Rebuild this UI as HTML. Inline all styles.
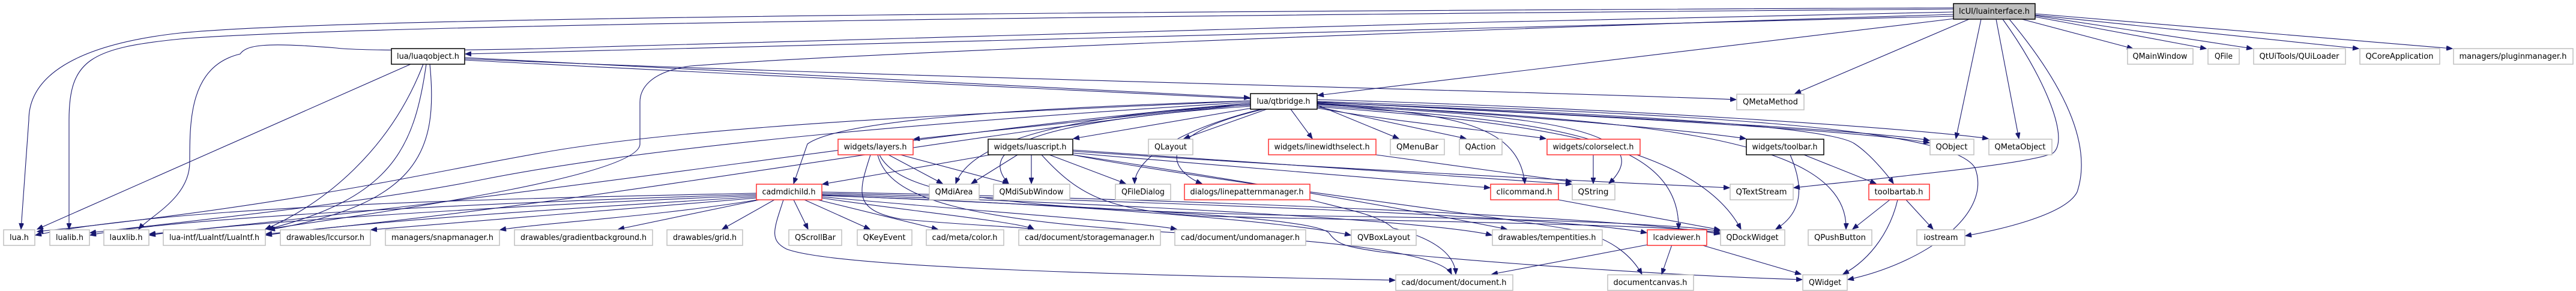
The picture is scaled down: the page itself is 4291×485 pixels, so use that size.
<!DOCTYPE html>
<html><head><meta charset="utf-8"><style>
html,body{margin:0;padding:0;background:#fff;}
svg{display:block;}
text{font-family:"DejaVu Sans","Liberation Sans",sans-serif;font-size:13px;fill:#000;}
.e{fill:none;stroke:#191970;stroke-width:1.1;marker-end:url(#a);}
.g{fill:#fff;stroke:#bfbfbf;stroke-width:1.5;}
.r{fill:#fff;stroke:#ff3030;stroke-width:1.5;}
.k{fill:#fff;stroke:#000;stroke-width:1.5;}
</style></head><body>
<svg width="4291" height="485" viewBox="0 0 4291 485" xmlns="http://www.w3.org/2000/svg">
<defs><marker id="a" markerUnits="userSpaceOnUse" markerWidth="11" markerHeight="8" refX="10" refY="4" orient="auto"><path d="M0,0 L10,4 L0,8 z" fill="#191970" stroke="#191970"/></marker></defs>
<g>
<!-- luainterface edges -->
<path class="e" d="M3254,13 C2200,18 600,25 300,55 C120,75 48,130 48,200 L35,382"/>
<path class="e" d="M3254,15 C2000,25 600,40 300,65 C150,80 115,100 115,200 L115,382"/>
<path class="e" d="M3254,20 C2500,35 1500,60 1000,78 C800,85 600,85 560,80 C440,70 410,75 400,90 C316,110 316,200 316,270 C316,330 250,360 231,382"/>
<path class="e" d="M3254,24 C2400,50 1400,90 1150,110 C1080,120 1066,150 1066,170 L1066,240 C1066,290 700,345 444,382"/>
<path class="e" d="M3254,27 L775,90"/>
<path class="e" d="M3256,31 L2195,159"/>
<path class="e" d="M3280,32 L2990,156"/>
<path class="e" d="M3300,32 L3258,231"/>
<path class="e" d="M3325,32 L3363,231"/>
<path class="e" d="M3336,32 C3400,120 3450,230 3420,255 C3380,275 3100,300 2988,313"/>
<path class="e" d="M3347,32 C3420,120 3490,230 3460,320 C3440,360 3320,385 3274,393"/>
<path class="e" d="M3368,32 L3553,81"/>
<path class="e" d="M3390,28 L3675,81"/>
<path class="e" d="M3390,26 L3752,81"/>
<path class="e" d="M3390,25 L3929,81"/>
<path class="e" d="M3390,23 L4085,81"/>
<!-- luaqobject -->
<path class="e" d="M774,96 L2082,163"/>
<path class="e" d="M774,98 C1500,130 2500,150 2892,166"/>
<path class="e" d="M774,100 C1700,150 3000,200 3214,238"/>
<path class="e" d="M684,107 L62,382"/>
<path class="e" d="M705,107 C650,250 540,340 442,382"/>
<path class="e" d="M710,107 C690,250 650,330 446,382"/>
<path class="e" d="M716,107 C730,250 700,340 448,383"/>
<!-- qtbridge -->
<path class="e" d="M2083,172 L1522,232"/>
<path class="e" d="M2086,180 L1788,231"/>
<path class="e" d="M2110,182 L1972,231"/>
<path class="e" d="M2150,182 L2186,231"/>
<path class="e" d="M2194,175 L2330,231"/>
<path class="e" d="M2194,178 L2442,231"/>
<path class="e" d="M2194,180 C2300,200 2500,220 2575,231"/>
<path class="e" d="M2194,172 C2500,190 2800,215 2908,231"/>
<path class="e" d="M2194,170 C2600,190 3100,215 3214,234"/>
<path class="e" d="M2194,166 C2700,180 3200,215 3312,231"/>
<path class="e" d="M2083,168 C1700,180 1400,200 1345,240 L1322,306"/>
<path class="e" d="M2083,175 C1800,190 1620,230 1592,306"/>
<path class="e" d="M2083,177 C1750,200 1620,240 1680,306"/>
<path class="e" d="M2100,182 C1950,220 1890,270 1890,306"/>
<path class="e" d="M2105,182 C1900,230 1960,290 2002,306"/>
<path class="e" d="M2194,173 C2400,190 2530,200 2540,306"/>
<path class="e" d="M2194,174 C2450,190 2790,200 2680,306"/>
<path class="e" d="M2194,176 C2550,200 2800,220 2796,382"/>
<path class="e" d="M2194,178 C2500,200 2820,230 2900,382"/>
<path class="e" d="M2194,173 C2700,200 3080,220 3075,382"/>
<path class="e" d="M2194,171 C2700,190 3050,210 3090,240 C3120,260 3150,300 3154,306"/>
<path class="e" d="M2194,169 C2800,190 3250,210 3290,280 C3320,360 3200,440 3078,466"/>
<path class="e" d="M2083,168 C1600,190 1150,210 900,255 C700,290 500,340 62,386"/>
<path class="e" d="M2083,170 C1600,200 1100,240 800,300 C600,340 300,370 150,388"/>
<path class="e" d="M2083,172 C1600,210 900,330 249,390"/>
<path class="e" d="M2083,174 C1600,220 1000,340 443,390"/>
<!-- cadmdichild -->
<path class="e" d="M1260,322 C900,330 300,340 59,392"/>
<path class="e" d="M1260,324 C900,335 300,360 150,392"/>
<path class="e" d="M1260,326 C900,340 400,370 249,392"/>
<path class="e" d="M1260,328 C900,350 600,370 443,392"/>
<path class="e" d="M1260,330 C1000,350 800,370 618,383"/>
<path class="e" d="M1262,333 C1100,360 900,372 833,383"/>
<path class="e" d="M1265,333 L1030,382"/>
<path class="e" d="M1290,333 L1203,382"/>
<path class="e" d="M1322,333 L1346,382"/>
<path class="e" d="M1340,333 L1449,382"/>
<path class="e" d="M1362,333 L1562,382"/>
<path class="e" d="M1369,330 C1500,350 1700,370 1722,382"/>
<path class="e" d="M1369,328 C1600,350 1900,370 1960,382"/>
<path class="e" d="M1369,326 C1800,340 2150,370 2250,392"/>
<path class="e" d="M1369,324 C1900,340 2400,370 2485,392"/>
<path class="e" d="M1369,322 C1900,335 2600,360 2743,388"/>
<path class="e" d="M1369,320 C1900,330 2700,360 2865,390"/>
<path class="e" d="M1305,333 C1290,380 1280,400 1310,415 C1400,450 2000,460 2324,467"/>
<path class="e" d="M1369,325 C1800,345 2200,360 2215,390 C2230,410 2250,412 2300,420 C2500,440 2800,460 3002,466"/>
<!-- layers -->
<path class="e" d="M1480,258 L1570,306"/>
<path class="e" d="M1500,258 L1680,306"/>
<path class="e" d="M1450,258 C1430,320 1420,350 1500,365 C1600,375 1700,378 1722,382"/>
<path class="e" d="M1462,258 C1480,330 1600,370 2000,390 C2200,400 2400,420 2418,457"/>
<path class="e" d="M1465,258 C1500,330 1700,350 2200,360 C2600,365 2800,375 2865,385"/>
<!-- luascript -->
<path class="e" d="M1650,258 L1370,307"/>
<path class="e" d="M1695,258 L1618,306"/>
<path class="e" d="M1718,258 L1718,306"/>
<path class="e" d="M1748,258 L1875,306"/>
<path class="e" d="M1735,258 C1800,330 1850,350 2000,360 C2400,370 2800,375 2865,388"/>
<path class="e" d="M1787,250 C2100,270 2400,290 2618,307"/>
<path class="e" d="M1787,252 C2200,280 2600,300 2881,313"/>
<path class="e" d="M1787,255 C2100,280 2350,300 2482,313"/>
<path class="e" d="M1787,258 C2000,290 2300,340 2510,382"/>
<path class="e" d="M1787,258 C2000,300 2500,360 2630,385 C2690,400 2720,430 2735,457"/>
<!-- misc -->
<path class="e" d="M2182,333 C2250,350 2300,360 2320,380 C2400,400 2424,430 2425,457"/>
<path class="e" d="M2292,258 L2618,303"/>
<path class="e" d="M2654,258 L2654,306"/>
<path class="e" d="M2596,333 L2865,383"/>
<path class="e" d="M2982,258 C3000,300 3010,350 2958,382"/>
<path class="e" d="M3005,258 L3125,306"/>
<path class="e" d="M3148,333 L3086,382"/>
<path class="e" d="M3161,333 C3150,380 3120,430 3070,457"/>
<path class="e" d="M3175,333 L3220,382"/>
<path class="e" d="M2744,408 L2485,457"/>
<path class="e" d="M2785,408 L2768,457"/>
<path class="e" d="M2833,408 L3000,457"/>
</g>
<g>
<rect x="3254" y="6" width="136" height="26" fill="#bfbfbf" stroke="#000" stroke-width="1.5"/><text x="3322" y="23" text-anchor="middle" textLength="118" lengthAdjust="spacingAndGlyphs">lcUI/luainterface.h</text>
<rect class="k" x="652" y="81" width="122" height="26"/><text x="713" y="98" text-anchor="middle" textLength="104" lengthAdjust="spacingAndGlyphs">lua/luaqobject.h</text>
<rect class="g" x="3544" y="81" width="109" height="26"/><text x="3598" y="98" text-anchor="middle" textLength="91" lengthAdjust="spacingAndGlyphs">QMainWindow</text>
<rect class="g" x="3678" y="81" width="52" height="26"/><text x="3704" y="98" text-anchor="middle" textLength="30" lengthAdjust="spacingAndGlyphs">QFile</text>
<rect class="g" x="3754" y="81" width="153" height="26"/><text x="3830" y="98" text-anchor="middle" textLength="133" lengthAdjust="spacingAndGlyphs">QtUiTools/QUiLoader</text>
<rect class="g" x="3931" y="81" width="133" height="26"/><text x="3997" y="98" text-anchor="middle" textLength="113" lengthAdjust="spacingAndGlyphs">QCoreApplication</text>
<rect class="g" x="4087" y="81" width="199" height="26"/><text x="4186" y="98" text-anchor="middle" textLength="179" lengthAdjust="spacingAndGlyphs">managers/pluginmanager.h</text>
<rect class="k" x="2083" y="156" width="111" height="26"/><text x="2138" y="173" text-anchor="middle" textLength="89" lengthAdjust="spacingAndGlyphs">lua/qtbridge.h</text>
<rect class="g" x="2893" y="157" width="112" height="26"/><text x="2949" y="174" text-anchor="middle" textLength="92" lengthAdjust="spacingAndGlyphs">QMetaMethod</text>
<rect class="r" x="1396" y="232" width="125" height="26"/><text x="1458" y="249" text-anchor="middle" textLength="105" lengthAdjust="spacingAndGlyphs">widgets/layers.h</text>
<rect class="k" x="1646" y="232" width="141" height="26"/><text x="1716" y="249" text-anchor="middle" textLength="121" lengthAdjust="spacingAndGlyphs">widgets/luascript.h</text>
<rect class="g" x="1913" y="232" width="74" height="26"/><text x="1950" y="249" text-anchor="middle" textLength="54" lengthAdjust="spacingAndGlyphs">QLayout</text>
<rect class="r" x="2113" y="232" width="179" height="26"/><text x="2202" y="249" text-anchor="middle" textLength="159" lengthAdjust="spacingAndGlyphs">widgets/linewidthselect.h</text>
<rect class="g" x="2316" y="232" width="90" height="26"/><text x="2361" y="249" text-anchor="middle" textLength="70" lengthAdjust="spacingAndGlyphs">QMenuBar</text>
<rect class="g" x="2431" y="232" width="71" height="26"/><text x="2466" y="249" text-anchor="middle" textLength="51" lengthAdjust="spacingAndGlyphs">QAction</text>
<rect class="r" x="2577" y="232" width="155" height="26"/><text x="2654" y="249" text-anchor="middle" textLength="135" lengthAdjust="spacingAndGlyphs">widgets/colorselect.h</text>
<rect class="k" x="2909" y="232" width="129" height="26"/><text x="2973" y="249" text-anchor="middle" textLength="109" lengthAdjust="spacingAndGlyphs">widgets/toolbar.h</text>
<rect class="g" x="3215" y="232" width="73" height="26"/><text x="3251" y="249" text-anchor="middle" textLength="53" lengthAdjust="spacingAndGlyphs">QObject</text>
<rect class="g" x="3313" y="232" width="105" height="26"/><text x="3365" y="249" text-anchor="middle" textLength="85" lengthAdjust="spacingAndGlyphs">QMetaObject</text>
<rect class="r" x="1260" y="307" width="109" height="26"/><text x="1314" y="324" text-anchor="middle" textLength="89" lengthAdjust="spacingAndGlyphs">cadmdichild.h</text>
<rect class="g" x="1548" y="307" width="83" height="26"/><text x="1589" y="324" text-anchor="middle" textLength="63" lengthAdjust="spacingAndGlyphs">QMdiArea</text>
<rect class="g" x="1655" y="307" width="127" height="26"/><text x="1718" y="324" text-anchor="middle" textLength="107" lengthAdjust="spacingAndGlyphs">QMdiSubWindow</text>
<rect class="g" x="1858" y="307" width="92" height="26"/><text x="1904" y="324" text-anchor="middle" textLength="72" lengthAdjust="spacingAndGlyphs">QFileDialog</text>
<rect class="r" x="1973" y="307" width="209" height="26"/><text x="2077" y="324" text-anchor="middle" textLength="189" lengthAdjust="spacingAndGlyphs">dialogs/linepatternmanager.h</text>
<rect class="r" x="2483" y="307" width="113" height="26"/><text x="2539" y="324" text-anchor="middle" textLength="93" lengthAdjust="spacingAndGlyphs">clicommand.h</text>
<rect class="g" x="2619" y="307" width="71" height="26"/><text x="2654" y="324" text-anchor="middle" textLength="51" lengthAdjust="spacingAndGlyphs">QString</text>
<rect class="g" x="2882" y="307" width="105" height="26"/><text x="2934" y="324" text-anchor="middle" textLength="85" lengthAdjust="spacingAndGlyphs">QTextStream</text>
<rect class="r" x="3113" y="307" width="101" height="26"/><text x="3163" y="324" text-anchor="middle" textLength="81" lengthAdjust="spacingAndGlyphs">toolbartab.h</text>
<rect class="g" x="6" y="383" width="52" height="26"/><text x="32" y="400" text-anchor="middle" textLength="32" lengthAdjust="spacingAndGlyphs">lua.h</text>
<rect class="g" x="83" y="383" width="66" height="26"/><text x="116" y="400" text-anchor="middle" textLength="46" lengthAdjust="spacingAndGlyphs">lualib.h</text>
<rect class="g" x="173" y="383" width="75" height="26"/><text x="210" y="400" text-anchor="middle" textLength="55" lengthAdjust="spacingAndGlyphs">lauxlib.h</text>
<rect class="g" x="272" y="383" width="170" height="26"/><text x="357" y="400" text-anchor="middle" textLength="150" lengthAdjust="spacingAndGlyphs">lua-intf/LuaIntf/LuaIntf.h</text>
<rect class="g" x="467" y="383" width="150" height="26"/><text x="542" y="400" text-anchor="middle" textLength="130" lengthAdjust="spacingAndGlyphs">drawables/lccursor.h</text>
<rect class="g" x="642" y="383" width="190" height="26"/><text x="737" y="400" text-anchor="middle" textLength="170" lengthAdjust="spacingAndGlyphs">managers/snapmanager.h</text>
<rect class="g" x="857" y="383" width="230" height="26"/><text x="972" y="400" text-anchor="middle" textLength="210" lengthAdjust="spacingAndGlyphs">drawables/gradientbackground.h</text>
<rect class="g" x="1111" y="383" width="126" height="26"/><text x="1174" y="400" text-anchor="middle" textLength="106" lengthAdjust="spacingAndGlyphs">drawables/grid.h</text>
<rect class="g" x="1314" y="383" width="88" height="26"/><text x="1358" y="400" text-anchor="middle" textLength="68" lengthAdjust="spacingAndGlyphs">QScrollBar</text>
<rect class="g" x="1428" y="383" width="91" height="26"/><text x="1473" y="400" text-anchor="middle" textLength="71" lengthAdjust="spacingAndGlyphs">QKeyEvent</text>
<rect class="g" x="1543" y="383" width="129" height="26"/><text x="1607" y="400" text-anchor="middle" textLength="109" lengthAdjust="spacingAndGlyphs">cad/meta/color.h</text>
<rect class="g" x="1697" y="383" width="236" height="26"/><text x="1815" y="400" text-anchor="middle" textLength="216" lengthAdjust="spacingAndGlyphs">cad/document/storagemanager.h</text>
<rect class="g" x="1957" y="383" width="218" height="26"/><text x="2066" y="400" text-anchor="middle" textLength="198" lengthAdjust="spacingAndGlyphs">cad/document/undomanager.h</text>
<rect class="g" x="2251" y="383" width="108" height="26"/><text x="2305" y="400" text-anchor="middle" textLength="88" lengthAdjust="spacingAndGlyphs">QVBoxLayout</text>
<rect class="g" x="2486" y="383" width="183" height="26"/><text x="2577" y="400" text-anchor="middle" textLength="163" lengthAdjust="spacingAndGlyphs">drawables/tempentities.h</text>
<rect class="r" x="2744" y="383" width="99" height="26"/><text x="2793" y="400" text-anchor="middle" textLength="79" lengthAdjust="spacingAndGlyphs">lcadviewer.h</text>
<rect class="g" x="2866" y="383" width="107" height="26"/><text x="2919" y="400" text-anchor="middle" textLength="87" lengthAdjust="spacingAndGlyphs">QDockWidget</text>
<rect class="g" x="3012" y="383" width="106" height="26"/><text x="3065" y="400" text-anchor="middle" textLength="86" lengthAdjust="spacingAndGlyphs">QPushButton</text>
<rect class="g" x="3193" y="383" width="80" height="26"/><text x="3233" y="400" text-anchor="middle" textLength="57" lengthAdjust="spacingAndGlyphs">iostream</text>
<rect class="g" x="2325" y="458" width="195" height="26"/><text x="2422" y="475" text-anchor="middle" textLength="175" lengthAdjust="spacingAndGlyphs">cad/document/document.h</text>
<rect class="g" x="2678" y="458" width="143" height="26"/><text x="2749" y="475" text-anchor="middle" textLength="123" lengthAdjust="spacingAndGlyphs">documentcanvas.h</text>
<rect class="g" x="3003" y="458" width="74" height="26"/><text x="3040" y="475" text-anchor="middle" textLength="54" lengthAdjust="spacingAndGlyphs">QWidget</text>
</g>
</svg>
</body></html>
